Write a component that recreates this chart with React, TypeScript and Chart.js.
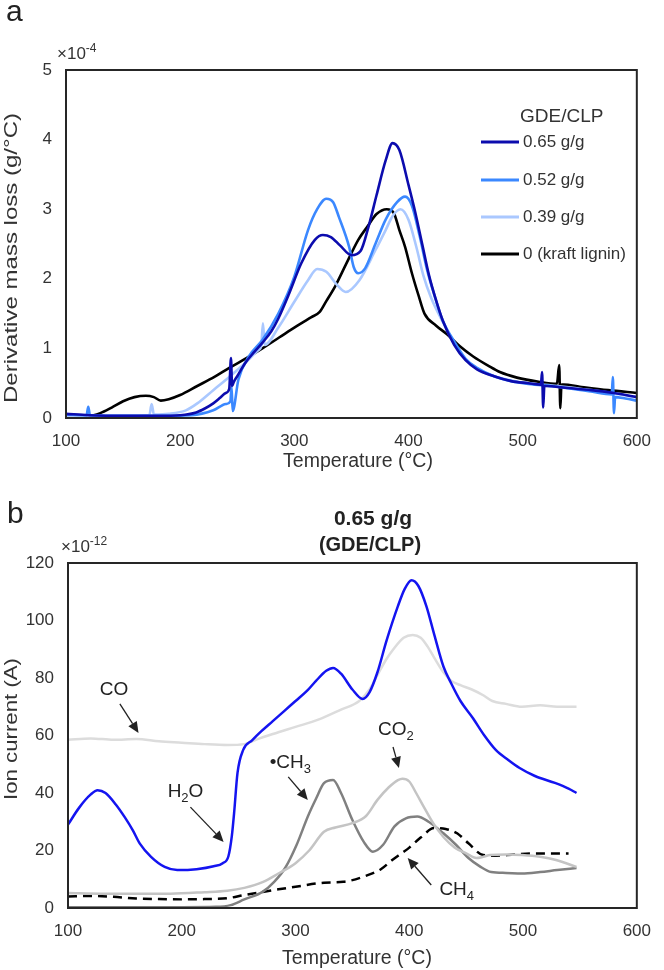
import React, { useEffect, useRef } from "react";
import { Chart, registerables } from "chart.js";
Chart.register(...registerables);

const FONT = "'Liberation Sans', Arial, Helvetica, sans-serif";
const TXT = "#333333";

// ---------- Panel a: DTG (×10^-4 g/°C) ----------
const legendTitleA = "GDE/CLP";
const labelsA = ["0.65 g/g", "0.52 g/g", "0.39 g/g", "0 (kraft lignin)"];
const colorsA = ["#0c0cae", "#3b88ff", "#aac8ff", "#000000"];

const tempA065 = [100,120,150,180,200,214,222,229,235,240,243,244.5,245.5,247,250,257,265,272,280,286,295,306,318,325,332,340,350,358,365,372,380,386,392,400,406,412,418,424,430,440,450,460,475,490,505,516,517,518,519,520,540,560,580,600];
const dtgA065 = [0.06,0.04,0.03,0.03,0.04,0.08,0.14,0.21,0.29,0.36,0.42,0.86,0.46,0.52,0.6,0.79,0.95,1.08,1.25,1.43,1.77,2.22,2.56,2.63,2.6,2.48,2.34,2.4,2.75,3.2,3.7,3.95,3.85,3.35,2.95,2.5,2.05,1.7,1.4,1.05,0.83,0.7,0.6,0.53,0.5,0.48,0.66,0.15,0.46,0.46,0.43,0.4,0.36,0.3];

const tempA052 = [100,118,119.5,121,150,180,210,229,240,244,245,246,251,260,272,286,300,312,320,328,334,339,348,352,356,362,371,380,390,397,403,410,416,422,430,440,450,460,475,490,505,530,560,578,579,580,581,590,600];
const dtgA052 = [0.05,0.04,0.16,0.04,0.03,0.03,0.04,0.11,0.2,0.24,0.45,0.1,0.55,0.88,1.12,1.5,2.03,2.7,3.0,3.15,3.1,2.89,2.46,2.17,2.08,2.15,2.5,2.85,3.1,3.18,3.05,2.6,2.15,1.8,1.4,1.1,0.85,0.72,0.6,0.53,0.49,0.45,0.38,0.34,0.59,0.07,0.3,0.28,0.25];

const tempA039 = [100,150,173,175,177,190,205,215,229,243,257,269,271,272.5,274,286,300,312,320,328,337,345,357,371,380,386,393,400,407,413,420,430,440,450,460,475,490,505,530,560,600];
const dtgA039 = [0.03,0.03,0.04,0.2,0.05,0.06,0.11,0.21,0.4,0.59,0.79,0.98,1.03,1.36,1.05,1.3,1.67,1.98,2.14,2.1,1.92,1.81,1.98,2.41,2.7,2.9,3.0,2.85,2.45,2.05,1.72,1.38,1.07,0.84,0.71,0.6,0.54,0.5,0.46,0.4,0.3];

const tempA0 = [100,120,130,140,150,160,170,177,183,190,200,215,230,243,258,272,287,301,315,322,328,336,345,356,364,372,381,387,392,397,403,409,414,424,434,445,457,470,480,495,514,530,532,533,534,536,550,575,600];
const dtgA0 = [0.03,0.03,0.07,0.15,0.24,0.3,0.32,0.3,0.25,0.27,0.33,0.46,0.59,0.72,0.86,1.0,1.16,1.31,1.45,1.52,1.68,1.9,2.2,2.56,2.75,2.93,3.0,2.95,2.7,2.46,2.08,1.75,1.5,1.33,1.2,1.03,0.88,0.75,0.66,0.58,0.52,0.49,0.76,0.14,0.48,0.48,0.45,0.4,0.36];

const tempsA = [tempA065, tempA052, tempA039, tempA0];
const valuesA = [dtgA065, dtgA052, dtgA039, dtgA0];

// ---------- Panel b: MS ion current (×10^-12 A) ----------
const tempH2O = [100,110,120,126,133,142,150,157,163,173,185,196,213,228,236,241,244,246,249,254,262,270,280,290,300,310,318,327,333,340,350,359,365,372,380,390,396,402,408,415,422,430,437,445,456,466,476,487,497,510,528,540,547];
const ionH2O = [29,35,39.5,41,40,36,31.5,27,22.5,17.8,14.3,13.2,13.5,14.5,15.6,18,25,33,47,55,58.4,61.5,65,68.5,72,75.5,79,82.5,83.5,81.5,76,72.7,75,82,93,105,111,114,112,105,95,84,78,72,66,60,55,51.5,48.7,46,43.5,41.5,40];

const tempCO = [100,120,140,160,180,200,220,240,255,265,280,300,320,340,356,365,372,379,386,395,403,410,416,422,430,437,445,455,465,473,485,499,515,530,547];
const ionCO = [58.5,59,58.5,58.8,58,57.5,57,56.7,57,58.5,60.5,63,65.5,69,72,76,81,86,90,94,95,94,91,87,82,79,77.5,76,74,72,71,70,70.5,70,70];

const tempCO2 = [100,130,160,190,220,240,255,271,285,300,312,325,335,350,362,372,382,390,394,400,406,413,421,430,440,450,459,465,471,485,499,515,529,547];
const ionCO2 = [5.2,5,5,5,5.5,6,7,9,12,15.6,20,26.5,28,29.5,32,37.6,42,44.5,45,44,40,35,29.5,24.7,21,19,17.4,17.8,18.4,18.6,18.4,17.8,16.7,14.3];

const tempCH3 = [100,150,200,230,243,255,271,281,291,301,311,318,325,333,340,350,360,368,377,387,397,407,417,430,441,452,462,472,485,499,515,530,547];
const ionCH3 = [0.3,0.3,0.3,0.4,1,3,5.6,9,14,22,32,38,43.4,44.5,40,30.6,23,19.6,22,28.4,31.2,31.8,30,26,22,17.4,14.5,12.5,12.2,12,12.5,13.2,13.9];

const tempCH4 = [100,120,140,160,180,200,220,240,255,271,285,300,325,342,364,375,385,393,400,410,422,432,442,452,465,475,490,510,525,540];
const ionCH4 = [4,4.2,3.9,3.3,3.1,3,3.1,3.4,4.5,5.6,6.5,7.4,8.8,9.1,11.5,13.5,16.7,19,21,24.5,27.8,27.5,26,22.5,18.4,18.2,18.5,19,19,19];

const labelsB = ["H2O", "CO", "CO2", "CH3", "CH4"];
const tempsB = [tempH2O, tempCO, tempCO2, tempCH3, tempCH4];
const valuesB = [ionH2O, ionCO, ionCO2, ionCH3, ionCH4];
const colorsB = ["#1414f0", "#dcdcdc", "#c4c4c4", "#808080", "#000000"];
const dashesB = [[], [], [], [], [9, 6]];

// annotation labels (data coordinates)
type Part = { t: string; sub?: boolean; sup?: boolean };
const annotationsB: { parts: Part[]; tx: number; ty: number; from: number[]; to: number[] }[] = [
  { parts: [{ t: "CO" }], tx: 140.4, ty: 75.8, from: [145.6, 71], to: [162, 60.9] },
  { parts: [{ t: "H" }, { t: "2", sub: true }, { t: "O" }], tx: 203.3, ty: 40.3, from: [207.6, 35.1], to: [236.8, 23] },
  { parts: [{ t: "•CH" }, { t: "3", sub: true }], tx: 295.4, ty: 50.4, from: [293.6, 45.6], to: [310.8, 37.6] },
  { parts: [{ t: "CO" }, { t: "2", sub: true }], tx: 388.3, ty: 61.9, from: [385.7, 56], to: [390.9, 48.7] },
  { parts: [{ t: "CH" }, { t: "4", sub: true }], tx: 441.7, ty: 6.3, from: [419.3, 8], to: [398.6, 17.4] },
];

function drawParts(ctx: CanvasRenderingContext2D, parts: Part[], x: number, y: number, size: number, align = "center", weight = "normal") {
  const small = Math.round(size * 0.68);
  const fonts = parts.map((p) => `${weight} ${p.sub || p.sup ? small : size}px ${FONT}`);
  let total = 0;
  const widths = parts.map((p, i) => {
    ctx.font = fonts[i];
    const w = ctx.measureText(p.t).width;
    total += w;
    return w;
  });
  let cx = align === "center" ? x - total / 2 : align === "right" ? x - total : x;
  ctx.textAlign = "left";
  ctx.textBaseline = "middle";
  parts.forEach((p, i) => {
    ctx.font = fonts[i];
    const dy = p.sub ? size * 0.32 : p.sup ? -size * 0.3 : 0;
    ctx.fillText(p.t, cx, y + dy);
    cx += widths[i];
  });
}

function drawVText(ctx: CanvasRenderingContext2D, text: string, cx: number, cy: number, size: number, span: number) {
  ctx.save();
  ctx.font = `${size}px ${FONT}`;
  const w = ctx.measureText(text).width;
  ctx.translate(cx, cy);
  ctx.rotate(-Math.PI / 2);
  ctx.scale(span / w, 1);
  ctx.textAlign = "center";
  ctx.textBaseline = "middle";
  ctx.fillText(text, 0, 0);
  ctx.restore();
}

function drawArrow(ctx: CanvasRenderingContext2D, x0: number, y0: number, x1: number, y1: number) {
  const ang = Math.atan2(y1 - y0, x1 - x0);
  const hl = 11, hw = 5;
  const bx = x1 - hl * Math.cos(ang), by = y1 - hl * Math.sin(ang);
  ctx.lineWidth = 1.3;
  ctx.beginPath();
  ctx.moveTo(x0, y0);
  ctx.lineTo(bx, by);
  ctx.stroke();
  ctx.beginPath();
  ctx.moveTo(x1, y1);
  ctx.lineTo(bx + hw * Math.sin(ang), by - hw * Math.cos(ang));
  ctx.lineTo(bx - hw * Math.sin(ang), by + hw * Math.cos(ang));
  ctx.closePath();
  ctx.fill();
}

function box(chart: any) {
  const { ctx, chartArea: a } = chart;
  ctx.save();
  ctx.strokeStyle = "#262626";
  ctx.lineWidth = 2;
  ctx.strokeRect(a.left, a.top, a.right - a.left, a.bottom - a.top);
  ctx.restore();
}

function xAxis(min: number, max: number, step: number) {
  return {
    type: "linear" as const,
    min, max,
    ticks: { stepSize: step, color: TXT, font: { family: FONT, size: 17 }, padding: 13, maxRotation: 0, autoSkip: false },
    grid: { display: false, drawTicks: false },
    border: { display: false },
    afterFit: (s: any) => { s.height = 62; },
  };
}
function yAxis(min: number, max: number, step: number, width: number) {
  return {
    type: "linear" as const,
    min, max,
    ticks: { stepSize: step, color: TXT, font: { family: FONT, size: 17 }, padding: 14, autoSkip: false },
    grid: { display: false, drawTicks: false },
    border: { display: false },
    afterFit: (s: any) => { s.width = width; },
  };
}

const decorA = {
  id: "decorA",
  afterDraw(chart: any) {
    const ctx: CanvasRenderingContext2D = chart.ctx;
    box(chart);
    ctx.save();
    ctx.fillStyle = "#222";
    ctx.font = `30px ${FONT}`;
    ctx.textAlign = "left";
    ctx.textBaseline = "alphabetic";
    ctx.fillText("a", 6, 21);
    ctx.fillStyle = TXT;
    drawParts(ctx, [{ t: "×10" }, { t: "-4", sup: true }], 57, 54, 17, "left");
    drawVText(ctx, "Derivative mass loss (g/°C)", 12, 258, 18, 290);
    drawParts(ctx, [{ t: "Temperature (°C)" }], 358, 462, 19.5, "center");
    // legend
    drawParts(ctx, [{ t: legendTitleA }], 520, 117, 19, "left");
    const rows = [142, 180, 217, 254];
    chart.data.datasets.forEach((ds: any, i: number) => {
      ctx.strokeStyle = ds.borderColor;
      ctx.lineWidth = 3;
      ctx.beginPath();
      ctx.moveTo(481, rows[i]);
      ctx.lineTo(519, rows[i]);
      ctx.stroke();
      ctx.fillStyle = TXT;
      drawParts(ctx, [{ t: ds.label }], 523, rows[i], 17, "left");
    });
    ctx.restore();
  },
};

const decorB = {
  id: "decorB",
  afterDraw(chart: any) {
    const ctx: CanvasRenderingContext2D = chart.ctx;
    const xs = chart.scales.x, ys = chart.scales.y;
    box(chart);
    ctx.save();
    ctx.fillStyle = "#222";
    ctx.font = `30px ${FONT}`;
    ctx.textAlign = "left";
    ctx.textBaseline = "alphabetic";
    ctx.fillText("b", 7, 43);
    drawParts(ctx, [{ t: "0.65 g/g" }], 373, 39, 21, "center", "bold");
    drawParts(ctx, [{ t: "(GDE/CLP)" }], 370, 65, 20, "center", "bold");
    ctx.fillStyle = TXT;
    drawParts(ctx, [{ t: "×10" }, { t: "-12", sup: true }], 61, 67, 17, "left");
    drawVText(ctx, "Ion current (A)", 12, 249, 18, 142);
    drawParts(ctx, [{ t: "Temperature (°C)" }], 357, 479, 19.5, "center");
    ctx.fillStyle = "#222";
    ctx.strokeStyle = "#222";
    annotationsB.forEach((a) => {
      drawParts(ctx, a.parts, xs.getPixelForValue(a.tx), ys.getPixelForValue(a.ty), 19, "center");
      drawArrow(ctx, xs.getPixelForValue(a.from[0]), ys.getPixelForValue(a.from[1]), xs.getPixelForValue(a.to[0]), ys.getPixelForValue(a.to[1]));
    });
    ctx.restore();
  },
};

export default function App() {
  const refA = useRef<HTMLCanvasElement>(null);
  const refB = useRef<HTMLCanvasElement>(null);
  useEffect(() => {
    document.body.style.margin = "0";
    const chartA = new Chart(refA.current!, {
      type: "line",
      data: {
        datasets: labelsA.map((label, i) => ({
          label,
          data: tempsA[i].map((t, j) => ({ x: t, y: valuesA[i][j] })),
          borderColor: colorsA[i],
          backgroundColor: colorsA[i],
          borderWidth: 2.6,
          pointRadius: 0,
          cubicInterpolationMode: "monotone",
          fill: false,
        })),
      },
      options: {
        responsive: false,
        maintainAspectRatio: false,
        animation: false,
        layout: { padding: { left: 0, right: 15, top: 70, bottom: 0 } },
        plugins: { legend: { display: false }, tooltip: { enabled: false }, title: { display: false } },
        scales: { x: xAxis(100, 600, 100), y: yAxis(0, 5, 1, 66) },
      } as any,
      plugins: [decorA],
    });
    const chartB = new Chart(refB.current!, {
      type: "line",
      data: {
        datasets: labelsB.map((label, i) => ({
          label,
          data: tempsB[i].map((t, j) => ({ x: t, y: valuesB[i][j] })),
          borderColor: colorsB[i],
          backgroundColor: colorsB[i],
          borderWidth: 2.5,
          borderDash: dashesB[i],
          pointRadius: 0,
          cubicInterpolationMode: "monotone",
          fill: false,
        })),
      },
      options: {
        responsive: false,
        maintainAspectRatio: false,
        animation: false,
        layout: { padding: { left: 0, right: 15, top: 83, bottom: 0 } },
        plugins: { legend: { display: false }, tooltip: { enabled: false }, title: { display: false } },
        scales: { x: xAxis(100, 600, 100), y: yAxis(0, 120, 20, 68) },
      } as any,
      plugins: [decorB],
    });
    return () => {
      chartA.destroy();
      chartB.destroy();
    };
  }, []);
  return (
    <div style={{ position: "relative", width: 664, height: 970, background: "#fff" }}>
      <canvas ref={refA} width={664} height={480} style={{ position: "absolute", left: 0, top: 0, width: 664, height: 480 }} />
      <canvas ref={refB} width={664} height={490} style={{ position: "absolute", left: 0, top: 480, width: 664, height: 490 }} />
    </div>
  );
}
